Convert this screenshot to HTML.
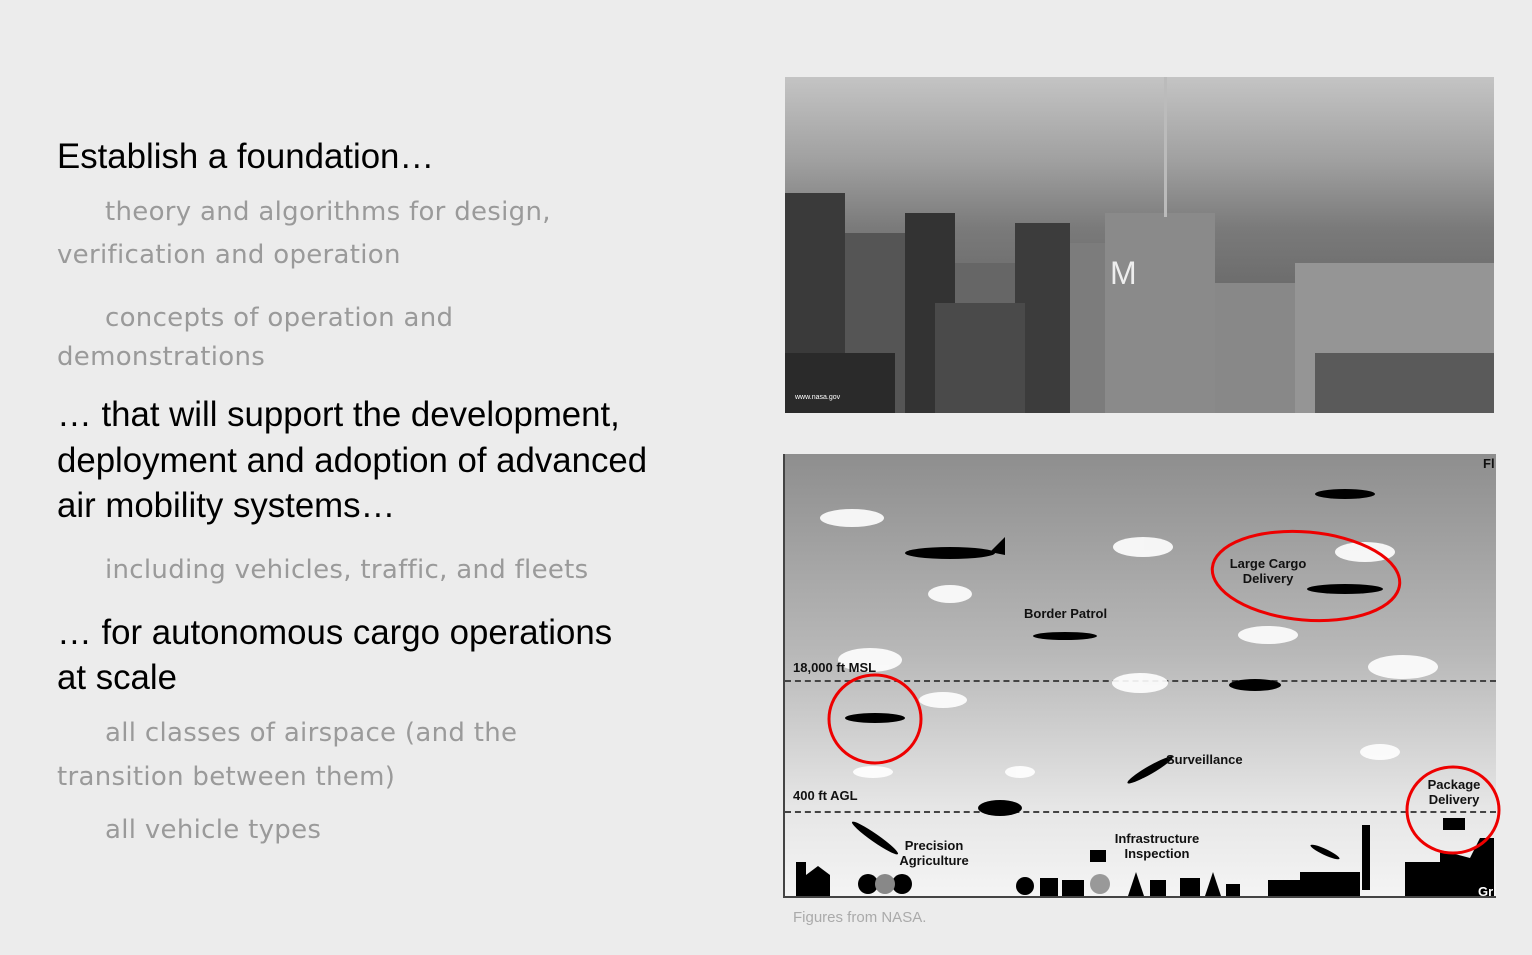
<!DOCTYPE html>
<html><head><style>
body{margin:0;width:1532px;height:955px;background:#ececec;position:relative;overflow:hidden;font-family:"Liberation Sans",sans-serif}
.l{position:absolute;left:57px;height:40px;line-height:40px;white-space:nowrap}
.b{font-size:34.8px;color:#000}
.g{font-size:26px;color:#9a9a9a;font-family:"DejaVu Sans",sans-serif;letter-spacing:0.3px}
.i{left:105px}
.bd{position:absolute;bottom:0}
</style></head><body>
<div class="l b" style="top:137px">Establish a foundation…</div>
<div class="l g i" style="top:192px">theory and algorithms for design,</div>
<div class="l g" style="top:235px">verification and operation</div>
<div class="l g i" style="top:298px">concepts of operation and</div>
<div class="l g" style="top:337px">demonstrations</div>
<div class="l b" style="top:395px">… that will support the development,</div>
<div class="l b" style="top:441px">deployment and adoption of advanced</div>
<div class="l b" style="top:486px">air mobility systems…</div>
<div class="l g i" style="top:550px">including vehicles, traffic, and fleets</div>
<div class="l b" style="top:613px">… for autonomous cargo operations</div>
<div class="l b" style="top:658px">at scale</div>
<div class="l g i" style="top:713px">all classes of airspace (and the</div>
<div class="l g" style="top:757px">transition between them)</div>
<div class="l g i" style="top:810px">all vehicle types</div>

<div style="position:absolute;left:785px;top:77px;width:709px;height:336px;background:linear-gradient(180deg,#c4c4c4 0%,#a0a0a0 25%,#7a7a7a 45%,#666 70%,#5a5a5a 100%);overflow:hidden">
 <div class="bd" style="left:0;width:60px;height:220px;background:#3a3a3a"></div>
 <div class="bd" style="left:60px;width:60px;height:180px;background:#555"></div>
 <div class="bd" style="left:120px;width:50px;height:200px;background:#333"></div>
 <div class="bd" style="left:170px;width:60px;height:150px;background:#666"></div>
 <div class="bd" style="left:230px;width:55px;height:190px;background:#3c3c3c"></div>
 <div class="bd" style="left:0;width:110px;height:60px;background:#2a2a2a"></div>
 <div class="bd" style="left:150px;width:90px;height:110px;background:#4a4a4a"></div>
 <div class="bd" style="left:285px;width:100px;height:170px;background:#7c7c7c"></div>
 <div class="bd" style="left:320px;width:110px;height:200px;background:#8a8a8a"></div>
 <div class="bd" style="left:430px;width:80px;height:130px;background:#888"></div>
 <div class="bd" style="left:510px;width:199px;height:150px;background:#959595"></div>
 <div class="bd" style="left:530px;width:179px;height:60px;background:#5a5a5a"></div>
 <div style="position:absolute;left:379px;top:0;width:3px;height:140px;background:#bbb"></div>
 <div style="position:absolute;left:325px;top:178px;font-size:32px;color:#eee">M</div>
 <div style="position:absolute;left:10px;top:317px;font-size:7px;color:#fff">www.nasa.gov</div>
</div>

<div style="position:absolute;left:783px;top:454px;width:713px;height:444px;background:linear-gradient(180deg,#8e8e8e 0%,#b8b8b8 45%,#e6e6e6 80%,#f4f4f4 100%);border-left:2px solid #444;border-bottom:2px solid #444;box-sizing:border-box;overflow:hidden">
 <div style="position:absolute;left:0;right:0;top:226px;border-top:2px dashed #444"></div>
 <div style="position:absolute;left:0;right:0;top:357px;border-top:2px dashed #444"></div>
</div>
<svg style="position:absolute;left:0;top:0" width="1532" height="955">
 <g fill="#fff" opacity=".9">
  <ellipse cx="852" cy="518" rx="32" ry="9"/><ellipse cx="1143" cy="547" rx="30" ry="10"/><ellipse cx="950" cy="594" rx="22" ry="9"/>
  <ellipse cx="1365" cy="552" rx="30" ry="10"/><ellipse cx="1268" cy="635" rx="30" ry="9"/><ellipse cx="870" cy="660" rx="32" ry="12"/>
  <ellipse cx="1140" cy="683" rx="28" ry="10"/><ellipse cx="1403" cy="667" rx="35" ry="12"/><ellipse cx="943" cy="700" rx="24" ry="8"/>
  <ellipse cx="1380" cy="752" rx="20" ry="8"/><ellipse cx="1020" cy="772" rx="15" ry="6"/><ellipse cx="873" cy="772" rx="20" ry="6"/>
 </g>
 <g fill="#000">
  <ellipse cx="950" cy="553" rx="45" ry="6"/><path d="M990 552 L1005 537 L1005 555Z"/>
  <ellipse cx="1345" cy="494" rx="30" ry="5"/><ellipse cx="1345" cy="589" rx="38" ry="5"/>
  <ellipse cx="1065" cy="636" rx="32" ry="4"/><ellipse cx="1255" cy="685" rx="26" ry="6"/>
  <ellipse cx="875" cy="718" rx="30" ry="5"/><ellipse cx="1000" cy="808" rx="22" ry="8"/>
  <ellipse cx="1150" cy="770" rx="26" ry="4" transform="rotate(-30 1150 770)"/>
  <ellipse cx="875" cy="838" rx="28" ry="4" transform="rotate(35 875 838)"/>
  <ellipse cx="1325" cy="852" rx="16" ry="3" transform="rotate(25 1325 852)"/>
  <rect x="1362" y="825" width="8" height="65"/><rect x="1443" y="818" width="22" height="12"/>
  <rect x="1090" y="850" width="16" height="12"/>
  <path d="M1268 896 L1268 880 L1300 880 L1300 872 L1360 872 L1360 896Z"/>
  <path d="M1405 896 L1405 862 L1440 862 L1440 850 L1470 858 L1480 838 L1494 838 L1494 896Z"/>
  <rect x="796" y="862" width="10" height="34"/><path d="M806 896 L806 875 L818 866 L830 875 L830 896Z"/>
  <circle cx="868" cy="884" r="10"/><circle cx="902" cy="884" r="10"/>
  <circle cx="1025" cy="886" r="9"/><rect x="1040" y="878" width="18" height="18"/><rect x="1062" y="880" width="22" height="16"/>
  <path d="M1128 896 L1136 872 L1144 896Z"/><rect x="1150" y="880" width="16" height="16"/><rect x="1180" y="878" width="20" height="18"/>
  <path d="M1205 896 L1213 872 L1221 896Z"/><rect x="1226" y="884" width="14" height="12"/>
 </g>
 <circle cx="885" cy="884" r="10" fill="#888"/><circle cx="1100" cy="884" r="10" fill="#999"/>
 <g fill="none" stroke="#e00" stroke-width="3">
  <ellipse cx="1306" cy="576" rx="94" ry="44" transform="rotate(5 1306 576)"/>
  <ellipse cx="875" cy="719" rx="46" ry="44"/>
  <ellipse cx="1453" cy="810" rx="46" ry="43"/>
 </g>
 <g font-family="Liberation Sans,sans-serif" font-weight="bold" font-size="13" fill="#111">
  <text x="793" y="672">18,000 ft MSL</text><text x="793" y="800">400 ft AGL</text>
  <text x="1024" y="618">Border Patrol</text>
  <text x="1268" y="568" text-anchor="middle">Large Cargo</text><text x="1268" y="583" text-anchor="middle">Delivery</text>
  <text x="1166" y="764">Surveillance</text>
  <text x="1454" y="789" text-anchor="middle">Package</text><text x="1454" y="804" text-anchor="middle">Delivery</text>
  <text x="934" y="850" text-anchor="middle">Precision</text><text x="934" y="865" text-anchor="middle">Agriculture</text>
  <text x="1157" y="843" text-anchor="middle">Infrastructure</text><text x="1157" y="858" text-anchor="middle">Inspection</text>
  <text x="1483" y="468">Fl</text><text x="1478" y="896" fill="#fff">Gr</text>
 </g>
 <text x="793" y="922" font-family="Liberation Sans,sans-serif" font-size="15" fill="#aaa">Figures from NASA.</text>
</svg>
</body></html>
